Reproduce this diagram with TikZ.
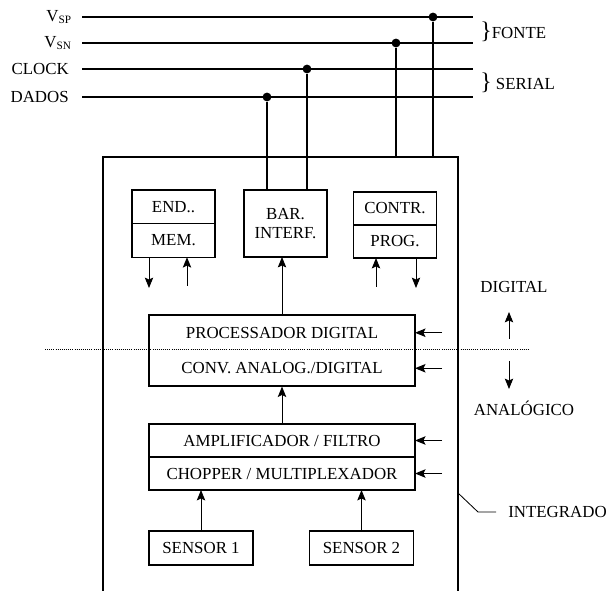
\documentclass[tikz,border=0pt]{standalone}
\usepackage{fontspec}
\setmainfont{Liberation Serif}
\usetikzlibrary{arrows.meta, positioning, fit}
\newcommand{\chave}{{\fontsize{17}{17}\selectfont\}}}
\tikzstyle{cell}   = [rectangle, draw, line width=0.8pt, outer sep=0pt, inner sep=0pt,
                       minimum width=2.075cm, minimum height=0.84cm, align=center]
\tikzstyle{wide}   = [rectangle, line width=0.8pt, outer sep=0pt, inner sep=0pt,
                       minimum width=6.65cm, minimum height=0.85cm, align=center]
\tikzstyle{sensor} = [rectangle, draw, line width=0.8pt, outer sep=0pt, inner sep=0pt,
                       minimum width=2.6cm, minimum height=0.85cm]
\tikzstyle{lbl}    = [inner sep=0pt, anchor=east]
\tikzstyle{bus}    = [line width=0.8pt]
\tikzstyle{dot}    = [circle, fill, inner sep=0pt, minimum size=2.2mm]
\tikzstyle{arr}    = [-{Stealth[length=2.6mm, width=2.1mm, inset=0.5mm]}, line width=0.7pt]

\begin{document}
\begin{tikzpicture}[x=0.025cm, y=-0.025cm, node distance=0pt,
    font=\fontsize{12}{13.5}\selectfont]
    \useasboundingbox (0,0) rectangle (608,591);

    % barramento externo
    \node[lbl] (vsp) at (72,17) {V\textsubscript{SP}};
    \node[lbl] (vsn) at (72,43) {V\textsubscript{SN}};
    \node[lbl] (clk) at (69,69) {CLOCK};
    \node[lbl] (dat) at (69,97) {DADOS};
    \coordinate (vspE) at (473,17);
    \coordinate (vsnE) at (473,43);
    \coordinate (clkE) at (473,69);
    \coordinate (datE) at (473,97);
    \draw[bus] (vspE -| 82,0) -- (vspE);
    \draw[bus] (vsnE -| 82,0) -- (vsnE);
    \draw[bus] (clkE -| 82,0) -- (clkE);
    \draw[bus] (datE -| 82,0) -- (datE);
    \node[anchor=west, inner sep=0pt] (fonte)  at (480,32) {\chave FONTE};
    \node[anchor=west, inner sep=0pt] (serial) at (480,83) {\chave\ SERIAL};

    \node[dot] (dsp) at (433,17) {};
    \node[dot] (dsn) at (396,43) {};
    \node[dot] (dck) at (307,69) {};
    \node[dot] (ddt) at (267,97) {};

    % integrado (aberto em baixo)
    \coordinate (icl) at (103,157);
    \coordinate (icr) at (458,157);
    \draw[line width=0.8pt] (103,591) -- (icl) -- (icr) -- (458,591);

    % blocos digitais
    \node[cell] (end) at (173.5,206.8) {END..};
    \node[cell, below=of end] (mem) {MEM.};
    \node[cell, minimum height=1.675cm] (bar) at (285.5,223.5) {BAR.\\INTERF.};
    \node[cell, minimum height=0.825cm] (contr) at (395,208.5) {CONTR.};
    \node[cell, minimum height=0.825cm, below=of contr] (prog) {PROG.};

    \node[wide, minimum height=0.8875cm] (proc) at (282,332.75) {PROCESSADOR DIGITAL};
    \node[wide, minimum height=0.8875cm, below=of proc] (conv) {CONV. ANALOG./DIGITAL};
    \node[draw, line width=0.8pt, inner sep=0pt, fit=(proc)(conv)] (ad) {};

    % blocos analogicos
    \node[wide, draw, minimum height=0.825cm] (amp) at (282,440.5) {AMPLIFICADOR / FILTRO};
    \node[wide, draw, minimum height=0.825cm, below=of amp] (chop) {CHOPPER / MULTIPLEXADOR};
    \node[sensor] (s1) at (201,548) {SENSOR 1};
    \node[sensor] (s2) at (361.5,548) {SENSOR 2};

    % ligacoes ao barramento
    \draw[bus] (ddt) -- (ddt |- bar.north);
    \draw[bus] (dck) -- (dck |- bar.north);
    \draw[bus] (dsn) -- (dsn |- icl);
    \draw[bus] (dsp) -- (dsp |- icl);

    % setas
    \coordinate (memout) at (149,288);
    \coordinate (memin)  at (187,286);
    \draw[arr] (memout |- mem.south) -- (memout);
    \draw[arr] (memin) -- (memin |- mem.south);
    \coordinate (progin)  at (376,287);
    \coordinate (progout) at (416,288);
    \draw[arr] (progin) -- (progin |- prog.south);
    \draw[arr] (progout |- prog.south) -- (progout);
    \draw[arr] (ad.north) -- (ad.north |- bar.south);
    \draw[arr] (amp.north) -- (ad.south);
    \draw[arr] (s1) -- (s1 |- chop.south);
    \draw[arr] (s2) -- (s2 |- chop.south);
    \draw[arr] ([xshift=0.675cm]proc.east) -- (proc.east);
    \draw[arr] ([xshift=0.675cm]conv.east) -- (conv.east);
    \draw[arr] ([xshift=0.675cm]amp.east) -- (amp.east);
    \draw[arr] ([xshift=0.675cm]chop.east) -- (chop.east);

    % fronteira digital / analogico
    \coordinate (fl) at (45,349);
    \coordinate (fr) at (530,349);
    \draw[line width=0.6pt, dash pattern=on 0.6pt off 0.9pt] (fl) -- (fr);
    \node (dig) at (514,287) {DIGITAL};
    \node (ana) at (524,408) {ANALÓGICO};
    \coordinate (up0) at (509,339);
    \coordinate (up1) at (509,312);
    \coordinate (dn0) at (509,361);
    \coordinate (dn1) at (509,389);
    \draw[arr] (up0) -- (up1);
    \draw[arr] (dn0) -- (dn1);

    % legenda do integrado
    \coordinate (leg0) at (458,493);
    \coordinate (leg1) at (478,512);
    \coordinate (leg2) at (496,512);
    \node[anchor=west, inner sep=0pt] (integ) at (508,512) {INTEGRADO};
    \draw[line width=0.6pt] (leg0) -- (leg1) -- (leg2);
  \end{tikzpicture}
\end{document}
